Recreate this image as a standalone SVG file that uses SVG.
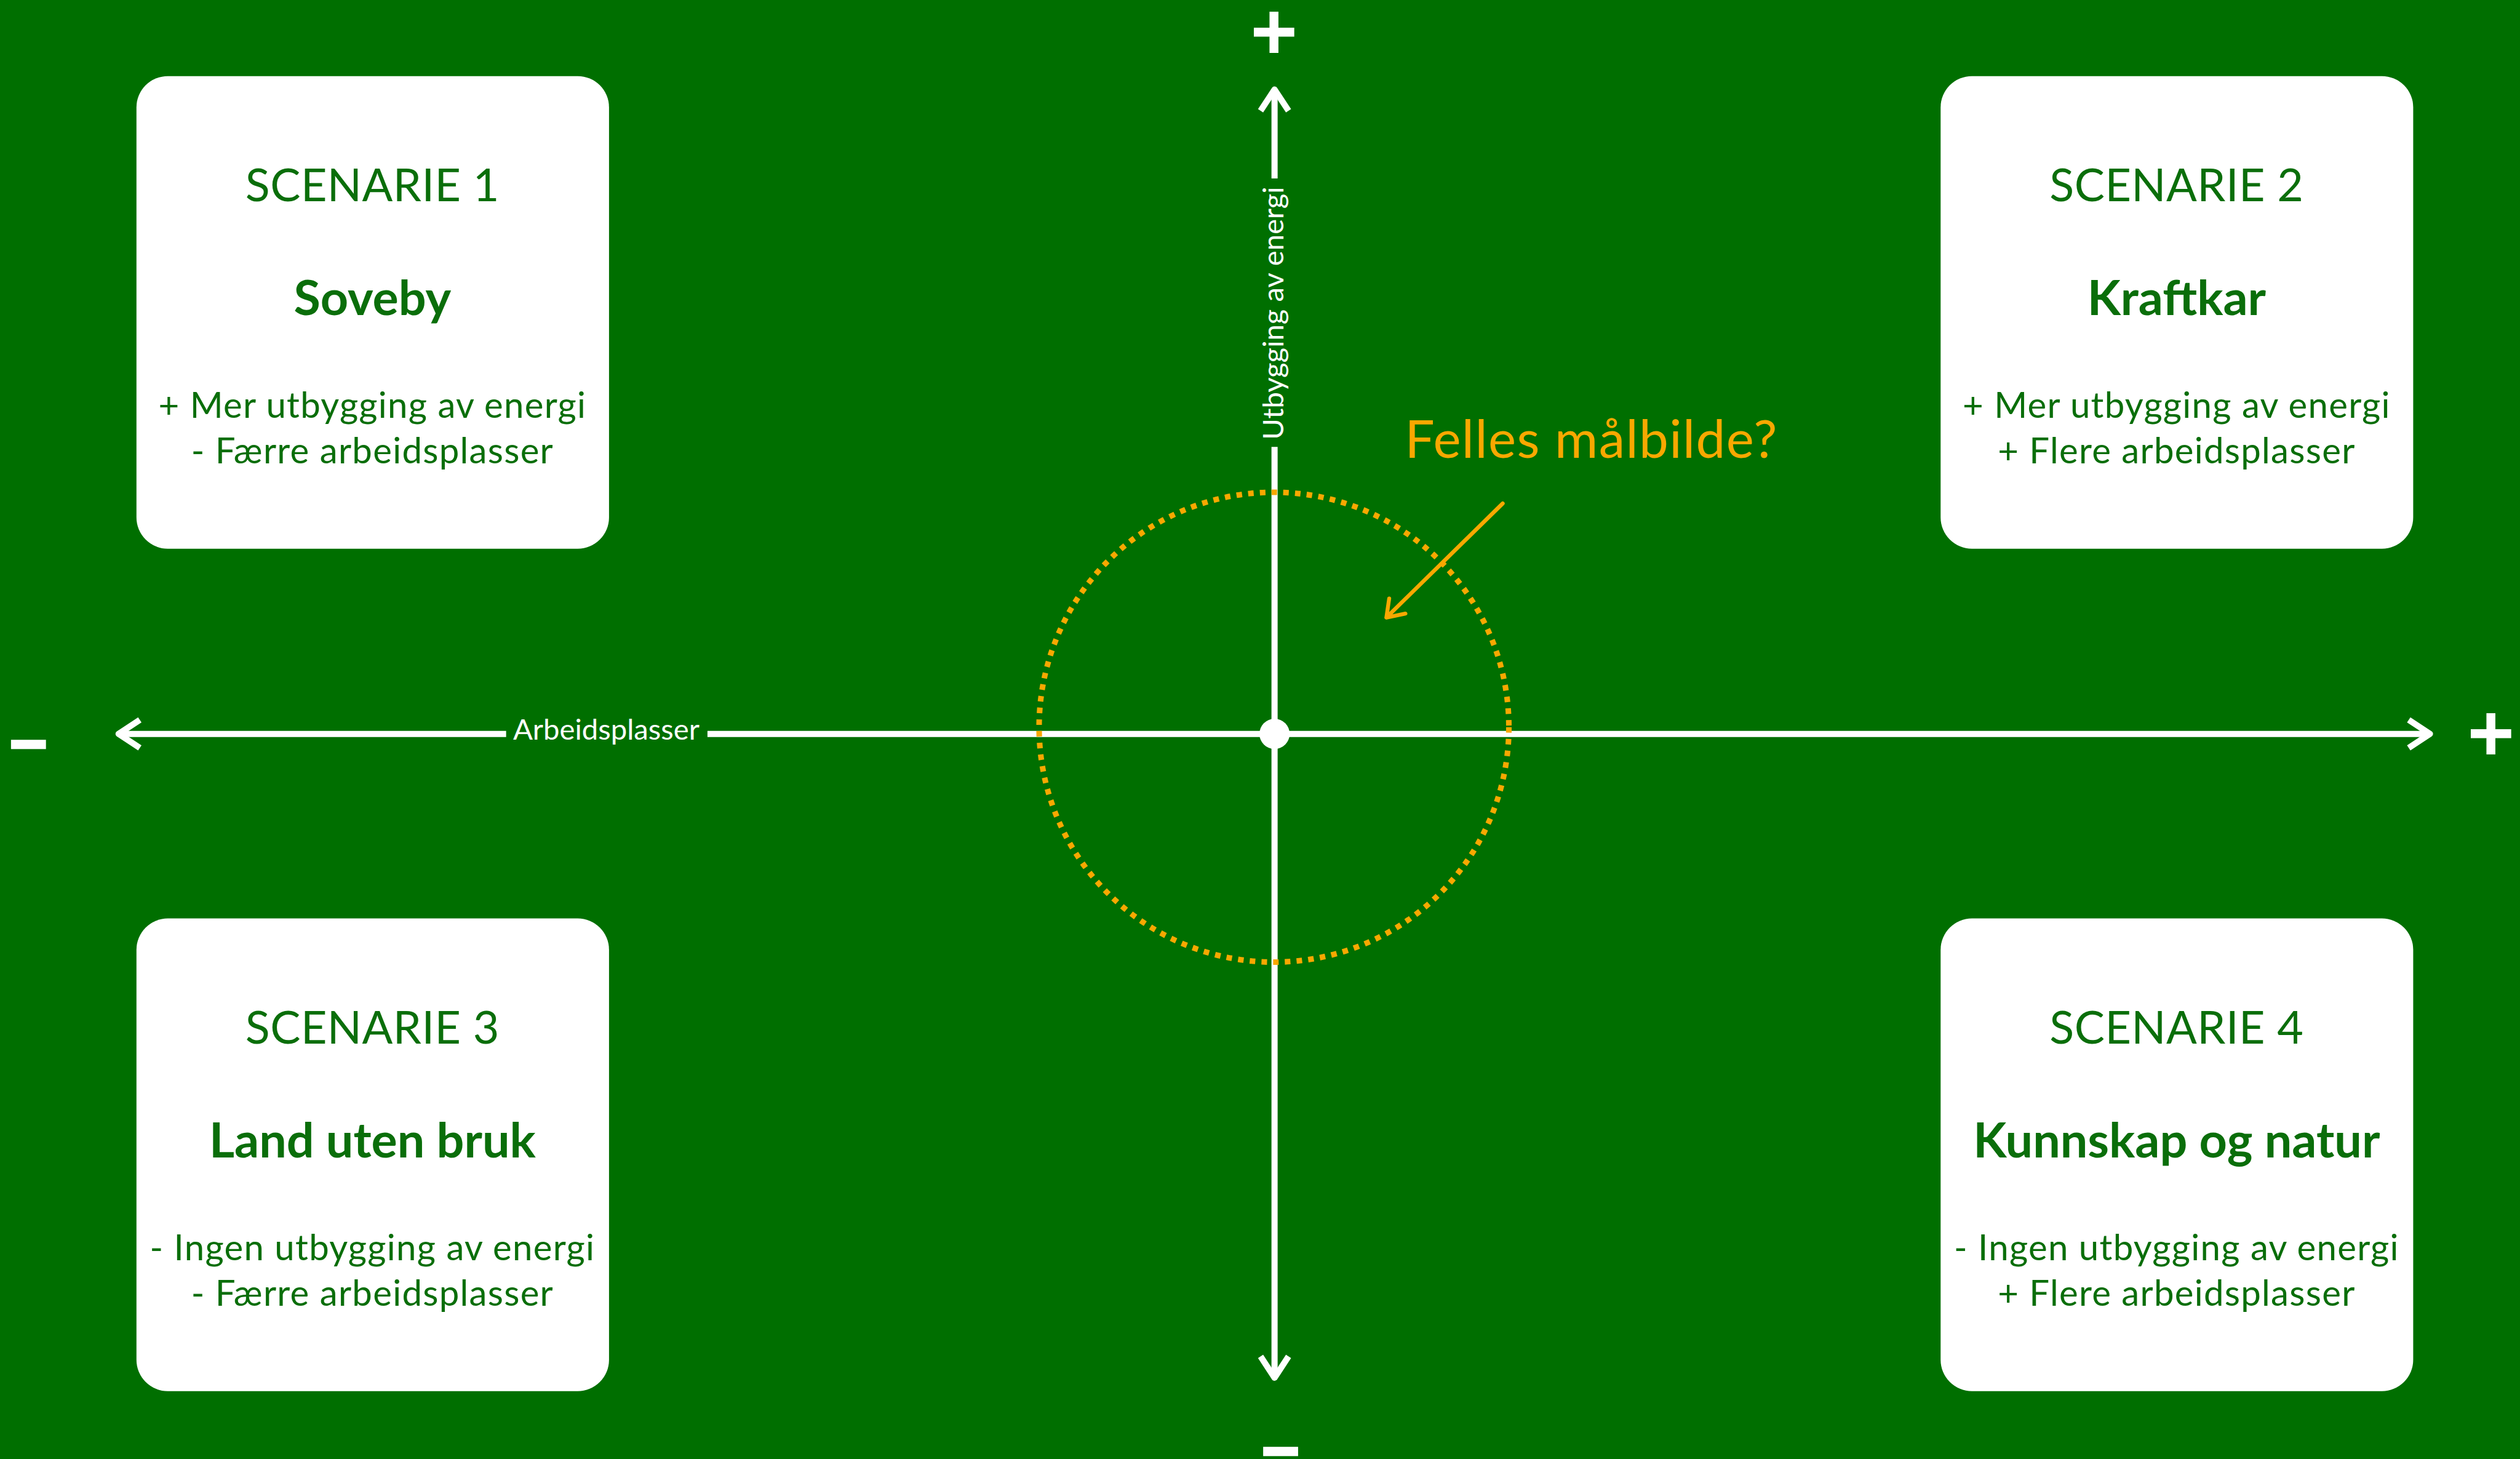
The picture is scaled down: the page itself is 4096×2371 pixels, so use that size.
<svg xmlns="http://www.w3.org/2000/svg" width="4096" height="2371" viewBox="0 0 4096 2371">
<style>
.box{fill:#ffffff}
.t{font-family:Lato,"Open Sans","Liberation Sans",sans-serif;fill:#0a6e0a;text-anchor:middle}
.h{font-size:81px;letter-spacing:0.5px}
.n{font-size:87px;font-weight:bold}
.b{font-size:64px;letter-spacing:1.4px}
.ax{stroke:#ffffff;stroke-width:11;fill:none;stroke-linecap:butt}
.ah{stroke:#ffffff;stroke-width:11;fill:none;stroke-linejoin:round;stroke-linecap:butt}
.lab{font-family:Lato,"Open Sans","Liberation Sans",sans-serif;font-size:52px;fill:#ffffff;text-anchor:middle}
.sign{font-family:"Liberation Sans",Arial,sans-serif;font-weight:bold;fill:#ffffff;text-anchor:middle}
.minus{stroke:#ffffff;stroke-width:5}
.or{stroke:#f9a800;fill:none}
</style>
<rect x="0" y="0" width="4096" height="2371" fill="#006f00"/>
<g transform="scale(0.909014)">
  <g id="connectors">
    <path class="ax" d="M212 1312 H905 M1265 1312 H4345"/>
    <path class="ah" d="M250 1287 L212 1312 L250 1337"/>
    <path class="ah" d="M4307 1287 L4345 1312 L4307 1337"/>
    <path class="ax" d="M2279 160 V319 M2279 799 V2463"/>
    <path class="ah" d="M2254 198 L2279 160 L2304 198"/>
    <path class="ah" d="M2254 2425 L2279 2463 L2304 2425"/>
    <circle cx="2279" cy="1312" r="27" fill="#ffffff"/>
    <circle class="or" cx="2278" cy="1300" r="420" stroke-width="10" stroke-dasharray="10 11"/>
    <path class="or" stroke-width="7" stroke-linecap="round" stroke-linejoin="round" d="M2687 900 L2479 1104 M2484 1070 L2479 1104 L2513 1097"/>
  </g>
  <g id="axis-labels">
    <text class="lab" x="1084" y="1322">Arbeidsplasser</text>
    <text class="lab" transform="translate(2295 560) rotate(-90)" x="0" y="0">Utbygging av energi</text>
    <text class="sign" x="2278" y="106" font-size="144">+</text>
    <text class="sign" x="4454" y="1360" font-size="144">+</text>
    <text class="sign minus" x="51" y="1362" font-size="116">–</text>
    <text class="sign minus" x="2290" y="2626" font-size="116">–</text>
  </g>
  <g id="felles">
    <text x="2512" y="818" font-family="Lato,'Open Sans','Liberation Sans',sans-serif" font-size="94" letter-spacing="1.5" fill="#f9a800">Felles målbilde?</text>
  </g>
  <g id="scenario1">
    <rect class="box" x="244" y="136" width="845" height="845" rx="56"/>
    <text class="t h" x="666" y="360">SCENARIE 1</text>
    <text class="t n" x="666" y="563">Soveby</text>
    <text class="t b" x="666" y="747">+ Mer utbygging av energi</text>
    <text class="t b" x="666" y="828">- Færre arbeidsplasser</text>
  </g>
  <g id="scenario2">
    <rect class="box" x="3470" y="136" width="845" height="845" rx="56"/>
    <text class="t h" x="3892" y="360">SCENARIE 2</text>
    <text class="t n" x="3892" y="563">Kraftkar</text>
    <text class="t b" x="3892" y="747">+ Mer utbygging av energi</text>
    <text class="t b" x="3892" y="828">+ Flere arbeidsplasser</text>
  </g>
  <g id="scenario3">
    <rect class="box" x="244" y="1642" width="845" height="845" rx="56"/>
    <text class="t h" x="666" y="1866">SCENARIE 3</text>
    <text class="t n" x="666" y="2069">Land uten bruk</text>
    <text class="t b" x="666" y="2253">- Ingen utbygging av energi</text>
    <text class="t b" x="666" y="2334">- Færre arbeidsplasser</text>
  </g>
  <g id="scenario4">
    <rect class="box" x="3470" y="1642" width="845" height="845" rx="56"/>
    <text class="t h" x="3892" y="1866">SCENARIE 4</text>
    <text class="t n" x="3892" y="2069">Kunnskap og natur</text>
    <text class="t b" x="3892" y="2253">- Ingen utbygging av energi</text>
    <text class="t b" x="3892" y="2334">+ Flere arbeidsplasser</text>
  </g>
</g>
</svg>
